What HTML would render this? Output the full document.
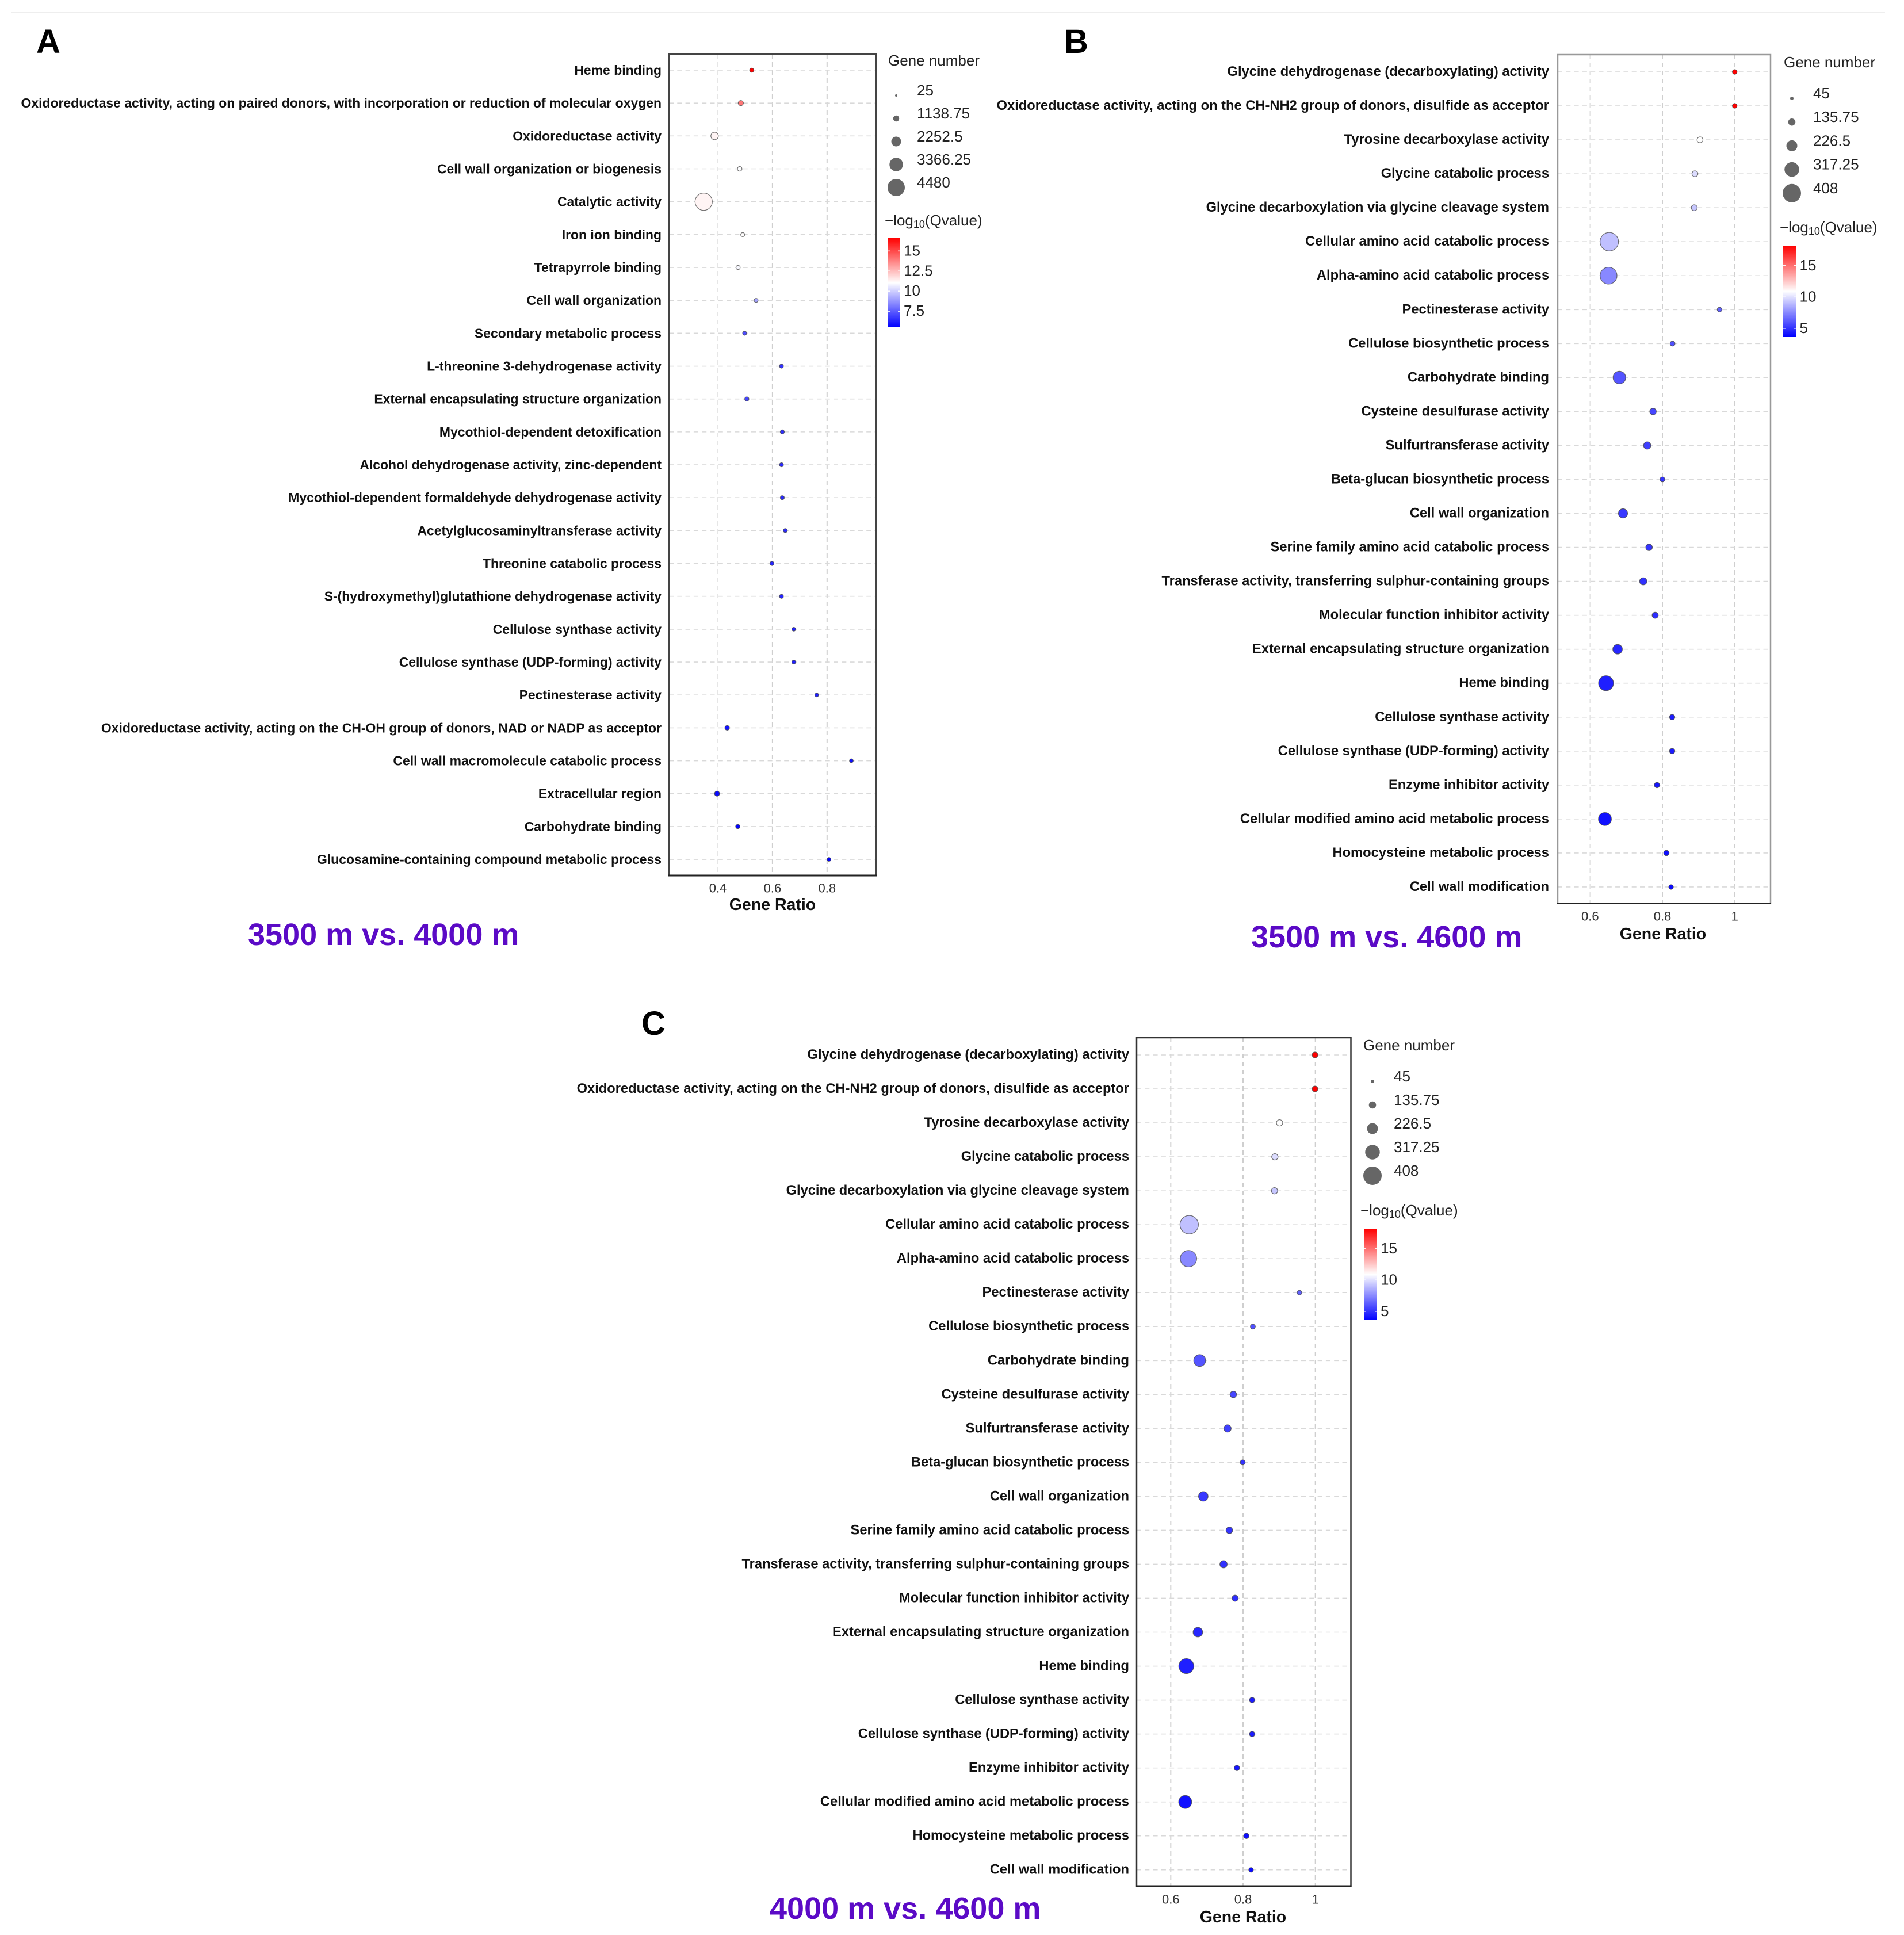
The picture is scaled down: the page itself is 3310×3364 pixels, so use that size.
<!DOCTYPE html>
<html lang="en">
<head>
<meta charset="utf-8">
<title>GO enrichment bubble charts</title>
<style>
html,body{margin:0;padding:0;background:#fff;}
svg{display:block;font-family:"Liberation Sans",sans-serif;}
</style>
</head>
<body>
<svg id="figure" xmlns="http://www.w3.org/2000/svg" width="3310" height="3364" viewBox="0 0 3310 3364">
<rect x="0" y="0" width="3310" height="3364" fill="#ffffff"/>
<rect x="19" y="21" width="3258" height="2" fill="#eeeeee"/>
<text x="63" y="92" font-size="58" font-weight="700">A</text>
<text x="1850" y="92" font-size="58" font-weight="700">B</text>
<text x="1115" y="1799" font-size="58" font-weight="700">C</text>
<text x="431" y="1643" font-size="54" font-weight="700" fill="#5b0ac6">3500 m vs. 4000 m</text>
<text x="2175" y="1647" font-size="54" font-weight="700" fill="#5b0ac6">3500 m vs. 4600 m</text>
<text x="1338" y="3336" font-size="54" font-weight="700" fill="#5b0ac6">4000 m vs. 4600 m</text>
</svg>
<script>
/* ---------- Panel A data ---------- */
var categoriesA = ["Heme binding","Oxidoreductase activity, acting on paired donors, with incorporation or reduction of molecular oxygen","Oxidoreductase activity","Cell wall organization or biogenesis","Catalytic activity","Iron ion binding","Tetrapyrrole binding","Cell wall organization","Secondary metabolic process","L-threonine 3-dehydrogenase activity","External encapsulating structure organization","Mycothiol-dependent detoxification","Alcohol dehydrogenase activity, zinc-dependent","Mycothiol-dependent formaldehyde dehydrogenase activity","Acetylglucosaminyltransferase activity","Threonine catabolic process","S-(hydroxymethyl)glutathione dehydrogenase activity","Cellulose synthase activity","Cellulose synthase (UDP-forming) activity","Pectinesterase activity","Oxidoreductase activity, acting on the CH-OH group of donors, NAD or NADP as acceptor","Cell wall macromolecule catabolic process","Extracellular region","Carbohydrate binding","Glucosamine-containing compound metabolic process"];
var ratioA = [0.524,0.484,0.388,0.480,0.348,0.491,0.474,0.540,0.498,0.633,0.506,0.636,0.633,0.636,0.647,0.598,0.633,0.678,0.678,0.762,0.434,0.889,0.397,0.473,0.807];
var genesA = [608,882,1567,710,4480,539,608,539,539,539,608,539,539,539,539,539,539,470,470,470,710,470,850,608,470];
var qvalueA = [16.6,14.0,11.3,11.0,11.3,11.1,10.9,9.1,7.2,6.6,7.0,6.5,6.4,6.4,6.4,6.3,6.3,6.2,6.2,6.2,5.9,5.8,5.7,5.6,5.5];
var xTicksA = [0.4,0.6,0.8];
var xTickLabelsA = ["0.4","0.6","0.8"];
var sizeTicksA = [25,1138.75,2252.5,3366.25,4480];
var sizeTickLabelsA = ["25","1138.75","2252.5","3366.25","4480"];
var colorTicksA = [15,12.5,10,7.5];
var colorTickLabelsA = ["15","12.5","10","7.5"];
var sizeDomainA = [25,4480];
var colorDomainA = [5.5,16.6];

/* ---------- Panel B data ---------- */
var categoriesB = ["Glycine dehydrogenase (decarboxylating) activity","Oxidoreductase activity, acting on the CH-NH2 group of donors, disulfide as acceptor","Tyrosine decarboxylase activity","Glycine catabolic process","Glycine decarboxylation via glycine cleavage system","Cellular amino acid catabolic process","Alpha-amino acid catabolic process","Pectinesterase activity","Cellulose biosynthetic process","Carbohydrate binding","Cysteine desulfurase activity","Sulfurtransferase activity","Beta-glucan biosynthetic process","Cell wall organization","Serine family amino acid catabolic process","Transferase activity, transferring sulphur-containing groups","Molecular function inhibitor activity","External encapsulating structure organization","Heme binding","Cellulose synthase activity","Cellulose synthase (UDP-forming) activity","Enzyme inhibitor activity","Cellular modified amino acid metabolic process","Homocysteine metabolic process","Cell wall modification"];
var ratioB = [1.0,1.0,0.904,0.890,0.888,0.653,0.651,0.958,0.828,0.681,0.774,0.758,0.800,0.691,0.763,0.747,0.780,0.676,0.644,0.827,0.827,0.785,0.641,0.811,0.824];
var genesB = [75,75,105,105,105,408,371,73,81,268,120,137,81,185,120,137,109,193,324,92,92,92,277,92,73];
var qvalueB = [18.2,18.2,10.9,9.9,9.3,9.1,7.5,6.4,5.9,6.0,5.6,5.4,5.1,5.2,5.1,5.0,4.9,4.7,4.5,4.4,4.4,4.2,4.1,4.0,3.9];
var xTicksB = [0.6,0.8,1];
var xTickLabelsB = ["0.6","0.8","1"];
var sizeTicksB = [45,135.75,226.5,317.25,408];
var sizeTickLabelsB = ["45","135.75","226.5","317.25","408"];
var colorTicksB = [15,10,5];
var colorTickLabelsB = ["15","10","5"];
var sizeDomainB = [45,408];
var colorDomainB = [3.6,18.2];

/* ---------- Panel C data ---------- */
var categoriesC = ["Glycine dehydrogenase (decarboxylating) activity","Oxidoreductase activity, acting on the CH-NH2 group of donors, disulfide as acceptor","Tyrosine decarboxylase activity","Glycine catabolic process","Glycine decarboxylation via glycine cleavage system","Cellular amino acid catabolic process","Alpha-amino acid catabolic process","Pectinesterase activity","Cellulose biosynthetic process","Carbohydrate binding","Cysteine desulfurase activity","Sulfurtransferase activity","Beta-glucan biosynthetic process","Cell wall organization","Serine family amino acid catabolic process","Transferase activity, transferring sulphur-containing groups","Molecular function inhibitor activity","External encapsulating structure organization","Heme binding","Cellulose synthase activity","Cellulose synthase (UDP-forming) activity","Enzyme inhibitor activity","Cellular modified amino acid metabolic process","Homocysteine metabolic process","Cell wall modification"];
var ratioC = [0.999,0.999,0.901,0.888,0.887,0.651,0.649,0.956,0.827,0.680,0.773,0.757,0.799,0.690,0.762,0.746,0.778,0.675,0.643,0.825,0.825,0.783,0.640,0.809,0.822];
var genesC = [100,100,115,115,115,408,360,73,81,249,120,137,81,193,120,137,109,193,324,92,92,92,277,92,73];
var qvalueC = [18.2,18.2,10.9,9.9,9.3,9.1,7.5,6.4,5.9,6.0,5.6,5.4,5.1,5.2,5.1,5.0,4.9,4.7,4.5,4.4,4.4,4.2,4.1,4.0,3.9];
var xTicksC = [0.6,0.8,1];
var xTickLabelsC = ["0.6","0.8","1"];
var sizeTicksC = [45,135.75,226.5,317.25,408];
var sizeTickLabelsC = ["45","135.75","226.5","317.25","408"];
var colorTicksC = [15,10,5];
var colorTickLabelsC = ["15","10","5"];
var sizeDomainC = [45,408];
var colorDomainC = [3.6,18.2];

/* ---------- Layout (geometry only) ---------- */
var NS = "http://www.w3.org/2000/svg";
var root = document.getElementById("figure");

function mk(parent, tag, attrs, txt) {
  var el = document.createElementNS(NS, tag);
  for (var k in attrs) el.setAttribute(k, attrs[k]);
  if (txt !== undefined) el.textContent = txt;
  parent.appendChild(el);
  return el;
}
function colorFor(v, dom) {
  var mid = (dom[0] + dom[1]) / 2, half = (dom[1] - dom[0]) / 2;
  var t = Math.max(-1, Math.min(1, (v - mid) / half));
  var c = Math.round(255 * (1 - Math.abs(t)));
  return t >= 0 ? "rgb(255," + c + "," + c + ")" : "rgb(" + c + "," + c + ",255)";
}

function drawPanel(id, d, p) {
  var g = mk(root, "g", {});
  
  

  function xScale(r) { return p.xAnchor + (r - p.rAnchor) * p.pxPerUnit; }
  function yScale(i) { return p.rowTop + i * p.rowStep; }
  function radius(v) { return p.rMin + p.rSpan * (v - d.sizeDomain[0]) / (d.sizeDomain[1] - d.sizeDomain[0]); }
  function barY(v) { return p.barBottom - (v - d.colorDomain[0]) / (d.colorDomain[1] - d.colorDomain[0]) * (p.barBottom - p.barTop); }

  /* gridlines */
  d.xTicks.forEach(function (t, i) {
    var vl = mk(g, "line", {x1: xScale(t), x2: xScale(t), y1: p.top, y2: p.bottom, stroke: (p.faintFirst && i === 0) ? "#e6e6e6" : "#cfcfcf", "stroke-width": 2, "stroke-dasharray": "8 6"});
    
    
  });
  d.categories.forEach(function (c, i) {
    var hl = mk(g, "line", {x1: p.left, x2: p.right, y1: yScale(i), y2: yScale(i), stroke: "#d9d9d9", "stroke-width": 1.6, "stroke-dasharray": "8 6.3"});
    
    
  });

  /* row labels */
  d.categories.forEach(function (c, i) {
    var lb = mk(g, "text", {x: p.labelRight, y: yScale(i), "text-anchor": "end", "dominant-baseline": "central", "font-size": p.labelSize, "font-weight": 700, fill: "#111"}, c);
    
    
  });

  /* bubbles */
  d.categories.forEach(function (c, i) {
    var dot = mk(g, "circle", {cx: xScale(d.ratio[i]), cy: yScale(i), r: radius(d.genes[i]), fill: colorFor(d.qvalue[i], d.colorDomain), stroke: "#444", "stroke-width": 1.2, "stroke-opacity": 0.75});
    
    
  });

  /* frame */
  var fr = mk(g, "rect", {x: p.left, y: p.top, width: p.right - p.left, height: p.bottom - p.top, fill: "none", stroke: p.frame, "stroke-width": 2.5});
  
  
  var bl = mk(g, "line", {x1: p.left - 1, x2: p.right + 1, y1: p.bottom, y2: p.bottom, stroke: "#222", "stroke-width": 3});
  
  

  /* x ticks + axis title */
  d.xTicks.forEach(function (t, i) {
    var tl = mk(g, "text", {x: xScale(t), y: p.tickY, "text-anchor": "middle", "dominant-baseline": "central", "font-size": 22, fill: "#333"}, d.xTickLabels[i]);
    
    
  });
  var xt = mk(g, "text", {x: p.axisTitleX, y: p.axisTitleY, "text-anchor": "middle", "dominant-baseline": "central", "font-size": 28.5, "font-weight": 700, fill: "#111"}, "Gene Ratio");
  
  

  /* size legend */
  var st = mk(g, "text", {x: p.sizeTitleX, y: p.sizeTitleY, "dominant-baseline": "central", "font-size": 26, fill: "#222"}, "Gene number");
  
  
  d.sizeTicks.forEach(function (v, i) {
    var cy = p.sizeDotTop + i * p.sizeStep;
    var c = mk(g, "circle", {cx: p.sizeDotX, cy: cy, r: radius(v), fill: "#666"});
    
    
    var t = mk(g, "text", {x: p.sizeLabelX, y: cy - 9, "dominant-baseline": "central", "font-size": 26, fill: "#222"}, d.sizeTickLabels[i]);
    
    
  });

  /* colour legend */
  var ct = mk(g, "text", {x: p.colorTitleX, y: p.colorTitleY, "dominant-baseline": "central", "font-size": 26, fill: "#222"});
  
  
  mk(ct, "tspan", {}, "\u2212log");
  mk(ct, "tspan", {"font-size": 18, dy: 7}, "10");
  mk(ct, "tspan", {dy: -7}, "(Qvalue)");

  var defs = mk(g, "defs", {});
  var lg = mk(defs, "linearGradient", {id: "grad-" + id, x1: 0, y1: 0, x2: 0, y2: 1});
  mk(lg, "stop", {offset: "0", "stop-color": colorFor(d.colorDomain[1], d.colorDomain)});
  mk(lg, "stop", {offset: "0.5", "stop-color": colorFor((d.colorDomain[0] + d.colorDomain[1]) / 2, d.colorDomain)});
  mk(lg, "stop", {offset: "1", "stop-color": colorFor(d.colorDomain[0], d.colorDomain)});
  var bar = mk(g, "rect", {x: p.barX, y: p.barTop, width: p.barW, height: p.barBottom - p.barTop, fill: "url(#grad-" + id + ")"});
  
  
  d.colorTicks.forEach(function (v, i) {
    var y = barY(v);
    var a = mk(g, "line", {x1: p.barX, x2: p.barX + 4, y1: y, y2: y, stroke: "#fff", "stroke-width": 1.5});
    
    
    var b = mk(g, "line", {x1: p.barX + p.barW - 4, x2: p.barX + p.barW, y1: y, y2: y, stroke: "#fff", "stroke-width": 1.5});
    
    
    var t = mk(g, "text", {x: p.barX + p.barW + 6, y: y - 1, "dominant-baseline": "central", "font-size": 26, fill: "#222"}, d.colorTickLabels[i]);
    
    
  });
}

drawPanel("a",
  {categories: categoriesA, ratio: ratioA, genes: genesA, qvalue: qvalueA, xTicks: xTicksA, xTickLabels: xTickLabelsA, sizeTicks: sizeTicksA, sizeTickLabels: sizeTickLabelsA, colorTicks: colorTicksA, colorTickLabels: colorTickLabelsA, sizeDomain: sizeDomainA, colorDomain: colorDomainA},
  {left: 1163, right: 1523, top: 94, bottom: 1522, xAnchor: 1248, rAnchor: 0.4, pxPerUnit: 474.5, rowTop: 122, rowStep: 57.17, labelRight: 1150, labelSize: 22.95, frame: "#444", faintFirst: true, tickY: 1544, axisTitleX: 1343, axisTitleY: 1573, rMin: 2, rSpan: 13, sizeTitleX: 1544, sizeTitleY: 105, sizeDotX: 1558, sizeDotTop: 166, sizeStep: 40, sizeLabelX: 1594, colorTitleX: 1538, colorTitleY: 383, barX: 1543, barW: 22, barTop: 414, barBottom: 569});

drawPanel("b",
  {categories: categoriesB, ratio: ratioB, genes: genesB, qvalue: qvalueB, xTicks: xTicksB, xTickLabels: xTickLabelsB, sizeTicks: sizeTicksB, sizeTickLabels: sizeTickLabelsB, colorTicks: colorTicksB, colorTickLabels: colorTickLabelsB, sizeDomain: sizeDomainB, colorDomain: colorDomainB},
  {left: 2708, right: 3078, top: 95, bottom: 1570.5, xAnchor: 2764.3, rAnchor: 0.6, pxPerUnit: 628.5, rowTop: 125, rowStep: 59.04, labelRight: 2693, labelSize: 23.7, frame: "#999", faintFirst: true, tickY: 1593, axisTitleX: 2891, axisTitleY: 1624, rMin: 3, rSpan: 13, sizeTitleX: 3101, sizeTitleY: 108, sizeDotX: 3115, sizeDotTop: 171, sizeStep: 41.2, sizeLabelX: 3152, colorTitleX: 3094, colorTitleY: 395, barX: 3100, barW: 22.5, barTop: 427, barBottom: 586});

drawPanel("c",
  {categories: categoriesC, ratio: ratioC, genes: genesC, qvalue: qvalueC, xTicks: xTicksC, xTickLabels: xTickLabelsC, sizeTicks: sizeTicksC, sizeTickLabels: sizeTickLabelsC, colorTicks: colorTicksC, colorTickLabels: colorTickLabelsC, sizeDomain: sizeDomainC, colorDomain: colorDomainC},
  {left: 1976, right: 2348.5, top: 1804, bottom: 3279, xAnchor: 2035.3, rAnchor: 0.6, pxPerUnit: 628.5, rowTop: 1834, rowStep: 59.03, labelRight: 1963, labelSize: 23.7, frame: "#333", faintFirst: false, tickY: 3302, axisTitleX: 2161, axisTitleY: 3333, rMin: 3, rSpan: 13, sizeTitleX: 2370, sizeTitleY: 1817, sizeDotX: 2386, sizeDotTop: 1880, sizeStep: 41, sizeLabelX: 2423, colorTitleX: 2365, colorTitleY: 2104, barX: 2371, barW: 23, barTop: 2136, barBottom: 2295});
</script>
</body>
</html>
